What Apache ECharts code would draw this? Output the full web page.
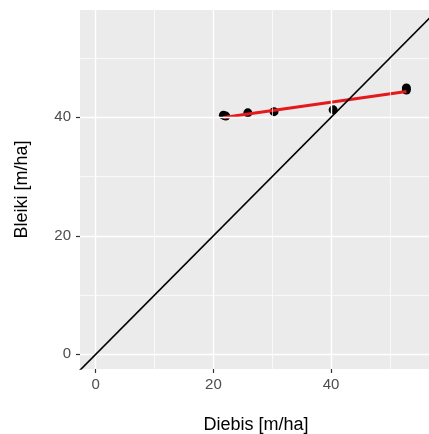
<!DOCTYPE html>
<html>
<head>
<meta charset="utf-8">
<script src="https://cdn.jsdelivr.net/npm/echarts@6/dist/echarts.min.js"></script>
<style>
  html, body { margin: 0; padding: 0; background: #ffffff; }
  #chart { width: 429px; height: 434px; }
</style>
</head>
<body>
<div id="chart"></div>
<script>
// Measurements: Diebis (x) vs Bleiki (y), both in m/ha
const diebis = [21.7, 22.1, 25.85, 30.3, 40.35, 52.8, 52.8];
const bleiki = [40.35, 40.2, 40.75, 40.95, 41.25, 44.95, 44.6];

// Axis ticks
const xTicks = [0, 20, 40];
const yTicks = [0, 20, 40];
const xMinor = [10, 30, 50];
const yMinor = [10, 30, 50];

// Visible axis ranges
const xRange = [-2.67, 56.64];
const yRange = [-2.48, 58.1];

// Least-squares fit for the trend line
function linearFit(xs, ys) {
  const n = xs.length;
  const mx = xs.reduce((a, b) => a + b, 0) / n;
  const my = ys.reduce((a, b) => a + b, 0) / n;
  let sxy = 0, sxx = 0;
  for (let i = 0; i < n; i++) {
    sxy += (xs[i] - mx) * (ys[i] - my);
    sxx += (xs[i] - mx) * (xs[i] - mx);
  }
  const slope = sxy / sxx;
  return { slope, intercept: my - slope * mx };
}
const fit = linearFit(diebis, bleiki);
const xLo = Math.min(...diebis), xHi = Math.max(...diebis);
const fitLine = [[xLo, fit.intercept + fit.slope * xLo], [xHi, fit.intercept + fit.slope * xHi]];

// 1:1 reference line across the plot
const lo = Math.min(xRange[0], yRange[0]) - 5, hi = Math.max(xRange[1], yRange[1]) + 5;
const identity = [[lo, lo], [hi, hi]];

const points = diebis.map((x, i) => [x, bleiki[i]]);

const font = '"Liberation Sans", Arial, sans-serif';
const gridLines = [];
xMinor.forEach(v => gridLines.push({ xAxis: v, lineStyle: { width: 0.7 } }));
yMinor.forEach(v => gridLines.push({ yAxis: v, lineStyle: { width: 0.7 } }));
xTicks.forEach(v => gridLines.push({ xAxis: v, lineStyle: { width: 1.4 } }));
yTicks.forEach(v => gridLines.push({ yAxis: v, lineStyle: { width: 1.4 } }));

const hiddenLine = { show: true, onZero: false, lineStyle: { color: 'rgba(0,0,0,0)', width: 0 } };

const chart = echarts.init(document.getElementById('chart'), null, { renderer: 'canvas' });
chart.setOption({
  animation: false,
  backgroundColor: '#ffffff',
  grid: {
    left: 80, top: 10, right: 0, bottom: 65,
    show: true, backgroundColor: '#EBEBEB', borderWidth: 0
  },
  xAxis: {
    type: 'value', min: xRange[0], max: xRange[1],
    axisLine: hiddenLine,
    splitLine: { show: false },
    axisTick: { show: true, customValues: xTicks, length: 4, lineStyle: { color: '#333333', width: 1.2 } },
    axisLabel: { customValues: xTicks, color: '#4D4D4D', fontSize: 15, fontFamily: font, margin: 8 }
  },
  yAxis: {
    type: 'value', min: yRange[0], max: yRange[1],
    axisLine: hiddenLine,
    splitLine: { show: false },
    axisTick: { show: true, customValues: yTicks, length: 4, lineStyle: { color: '#333333', width: 1.2 } },
    axisLabel: { customValues: yTicks, color: '#4D4D4D', fontSize: 15, fontFamily: font, margin: 9 }
  },
  graphic: [
    {
      type: 'text', x: 256, y: 425,
      style: { text: 'Diebis [m/ha]', fill: '#000000', font: '18px ' + font, textAlign: 'center', textVerticalAlign: 'middle' }
    },
    {
      type: 'text', x: 22, y: 189.5, rotation: Math.PI / 2,
      style: { text: 'Bleiki [m/ha]', fill: '#000000', font: '18px ' + font, textAlign: 'center', textVerticalAlign: 'middle' }
    }
  ],
  series: [
    {
      type: 'line', data: [], z: 1, silent: true,
      markLine: {
        silent: true, symbol: 'none', label: { show: false },
        lineStyle: { color: '#ffffff', type: 'solid' },
        emphasis: { disabled: true },
        data: gridLines
      }
    },
    {
      type: 'scatter', data: points, z: 3,
      symbol: 'circle', symbolSize: 9,
      itemStyle: { color: '#000000', opacity: 1 }
    },
    {
      type: 'line', data: fitLine, z: 4, showSymbol: false, symbol: 'none',
      lineStyle: { color: '#E3191C', width: 3 }
    },
    {
      type: 'line', data: identity, z: 5, showSymbol: false, symbol: 'none', clip: true,
      lineStyle: { color: '#000000', width: 1.7 }
    }
  ]
});
</script>
</body>
</html>
